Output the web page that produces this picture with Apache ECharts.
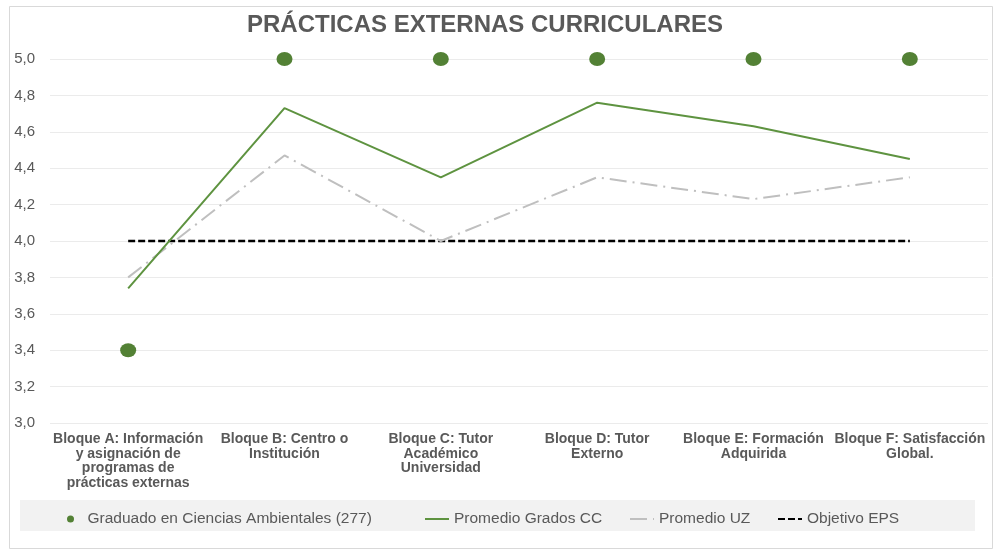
<!DOCTYPE html>
<html>
<head>
<meta charset="utf-8">
<script src="https://cdn.jsdelivr.net/npm/echarts@6/dist/echarts.min.js"></script>
<style>
  html, body { margin: 0; padding: 0; background: #fff; }
  #chart { width: 994px; height: 550px; }
</style>
</head>
<body>
<div id="chart"></div>
<script>
const categories = [
    'Bloque A: Información\ny asignación de\nprogramas de\nprácticas externas',
    'Bloque B: Centro o\nInstitución',
    'Bloque C: Tutor\nAcadémico\nUniversidad',
    'Bloque D: Tutor\nExterno',
    'Bloque E: Formación\nAdquirida',
    'Bloque F: Satisfacción\nGlobal.'
];
const graduado = [3.4, 5.0, 5.0, 5.0, 5.0, 5.0];
const gradosCC = [3.74, 4.73, 4.35, 4.76, 4.63, 4.45];
const promedioUZ = [3.80, 4.47, 4.00, 4.35, 4.23, 4.35];
const objetivoEPS = [4.0, 4.0, 4.0, 4.0, 4.0, 4.0];

var myChart = echarts.init(document.getElementById('chart'));

const textColor = '#595959';
const green = '#538135';
const font = 'Liberation Sans, Arial, sans-serif';

// una leyenda por serie para colocar cada entrada como en el original
function legendItem(name, left, extra) {
    return {
        left: left,
        top: 506,
        itemWidth: 24,
        itemHeight: 7,
        textStyle: { color: textColor, fontSize: 15.5, fontFamily: font },
        data: [Object.assign({ name: name }, extra)]
    };
}

const option = {
    backgroundColor: '#FFF',
    animation: false,
    title: {
        text: 'PRÁCTICAS EXTERNAS CURRICULARES',
        left: 480,
        textAlign: 'center',
        top: 8,
        textStyle: {
            color: textColor,
            fontSize: 24,
            fontWeight: 'bold',
            fontFamily: font
        }
    },
    graphic: [
        {
            type: 'rect',
            shape: { x: 9.5, y: 6.5, width: 983, height: 542 },
            style: { fill: 'none', stroke: '#D9D9D9', lineWidth: 1 },
            z: -1
        },
        {
            type: 'rect',
            shape: { x: 20, y: 500, width: 955, height: 31 },
            style: { fill: '#F2F2F2' },
            z: -1
        }
    ],
    legend: [
        legendItem('Graduado en Ciencias Ambientales (277)', 62, { icon: 'circle' }),
        legendItem('Promedio Grados CC', 419, { itemStyle: { opacity: 0 } }),
        legendItem('Promedio UZ', 624, { itemStyle: { opacity: 0 } }),
        legendItem('Objetivo EPS', 772, { itemStyle: { opacity: 0 } })
    ],
    grid: {
        left: 50,
        right: 6,
        top: 59,
        bottom: 127,
        containLabel: false
    },
    xAxis: {
        type: 'category',
        data: categories,
        axisLine: { show: false },
        axisTick: { show: false },
        axisLabel: {
            interval: 0,
            margin: 9,
            color: textColor,
            fontSize: 14,
            fontWeight: 'bold',
            lineHeight: 14.5,
            fontFamily: font
        }
    },
    yAxis: {
        type: 'value',
        min: 3.0,
        max: 5.0,
        interval: 0.2,
        axisLine: { show: false },
        axisTick: { show: false },
        splitLine: { lineStyle: { color: '#EBEBEB', width: 1 } },
        axisLabel: {
            color: textColor,
            fontSize: 15,
            margin: 15,
            fontFamily: font,
            formatter: function (v) { return v.toFixed(1).replace('.', ','); }
        }
    },
    series: [
        {
            name: 'Graduado en Ciencias Ambientales (277)',
            type: 'scatter',
            symbol: 'circle',
            symbolSize: [16, 14],
            itemStyle: { color: green, opacity: 1 },
            z: 5,
            data: graduado
        },
        {
            name: 'Promedio Grados CC',
            type: 'line',
            symbol: 'none',
            color: '#5E9340',
            lineStyle: { color: '#5E9340', width: 2 },
            z: 4,
            data: gradosCC
        },
        {
            name: 'Promedio UZ',
            type: 'line',
            symbol: 'none',
            color: '#BFBFBF',
            lineStyle: { color: '#BFBFBF', width: 2, type: [17, 6, 2, 6] },
            z: 3,
            data: promedioUZ
        },
        {
            name: 'Objetivo EPS',
            type: 'line',
            symbol: 'none',
            color: '#000',
            lineStyle: { color: '#000', width: 2.5, type: [7, 3] },
            z: 2,
            data: objetivoEPS
        }
    ]
};

option && myChart.setOption(option);

window.addEventListener("resize", function () {
    myChart.resize();
});
</script>
</body>
</html>
